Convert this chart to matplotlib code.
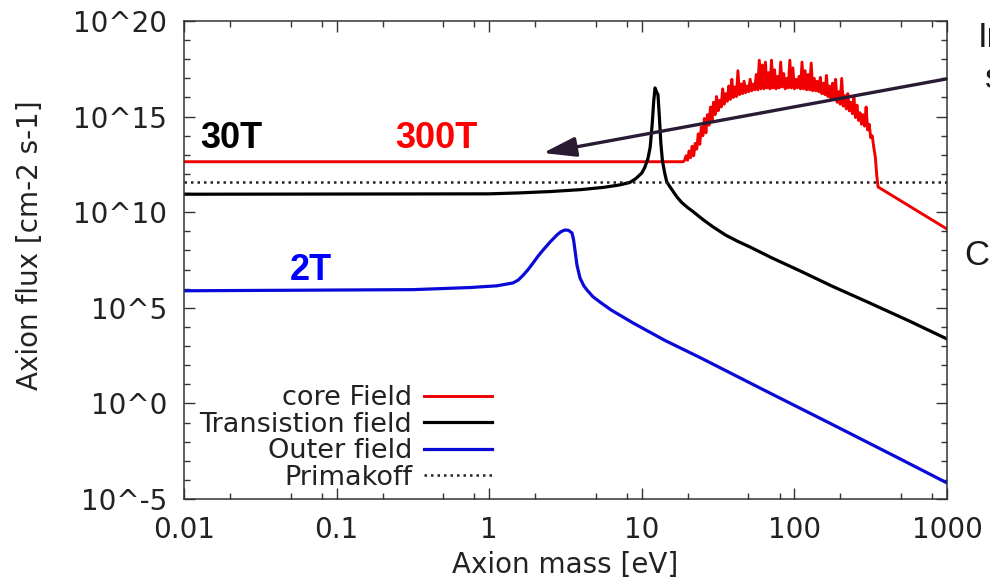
import numpy as np
import matplotlib
matplotlib.use("Agg")
import matplotlib.pyplot as plt
from matplotlib.ticker import FixedLocator, FixedFormatter, NullFormatter

plt.rcParams["font.family"] = ["DejaVu Sans"]

# ---- data (log10 of axion mass [eV] and log10 of flux [cm-2 s-1]) ----
# core field: flat, then a noisy bump between ~20 and ~350 eV, then a tail
core_points = [
    (-2.0, 12.64), (1.27, 12.64),
    (1.28, 12.70), (1.29, 12.95), (1.30, 12.72), (1.31, 13.20), (1.32, 12.85),
    (1.33, 13.45), (1.34, 12.95), (1.35, 13.60), (1.36, 13.30), (1.37, 14.10),
    (1.38, 13.55), (1.39, 14.45), (1.40, 14.00), (1.41, 14.90), (1.42, 14.15),
    (1.43, 15.10), (1.44, 14.55), (1.45, 15.50), (1.46, 14.80), (1.47, 15.75),
    (1.48, 15.10), (1.49, 16.05), (1.50, 15.30), (1.51, 15.85), (1.52, 15.50),
    (1.53, 16.45), (1.54, 15.65), (1.55, 16.20), (1.56, 15.80), (1.57, 16.60),
    (1.58, 15.90), (1.59, 16.95), (1.60, 16.00), (1.61, 16.55), (1.62, 16.05),
    (1.63, 17.40), (1.64, 16.15), (1.65, 16.70), (1.66, 16.20), (1.67, 16.85),
    (1.68, 16.25), (1.69, 16.60), (1.70, 16.30), (1.71, 16.95), (1.72, 16.35),
    (1.73, 16.70), (1.74, 16.40), (1.75, 17.20), (1.76, 16.40), (1.77, 17.95),
    (1.78, 16.45), (1.79, 17.70), (1.80, 16.45), (1.81, 17.85), (1.82, 16.50),
    (1.83, 17.30), (1.84, 16.45), (1.85, 17.95), (1.86, 16.50), (1.87, 17.45),
    (1.88, 16.45), (1.89, 17.10), (1.90, 16.50), (1.91, 17.85), (1.92, 16.55),
    (1.93, 17.25), (1.94, 16.45), (1.95, 17.00), (1.96, 16.50), (1.97, 17.95),
    (1.98, 16.50), (1.99, 17.55), (2.00, 16.45), (2.01, 16.95), (2.02, 16.50),
    (2.03, 17.10), (2.04, 16.45), (2.05, 17.85), (2.06, 16.45), (2.07, 17.40),
    (2.08, 16.40), (2.09, 17.20), (2.10, 16.40), (2.11, 17.80), (2.12, 16.35),
    (2.13, 17.00), (2.14, 16.35), (2.15, 16.85), (2.16, 16.30), (2.17, 17.05),
    (2.18, 16.20), (2.19, 16.75), (2.20, 16.15), (2.21, 17.15), (2.22, 16.05),
    (2.23, 16.60), (2.24, 15.95), (2.25, 16.75), (2.26, 15.90), (2.27, 16.95),
    (2.28, 15.75), (2.29, 16.30), (2.30, 15.65), (2.31, 17.00), (2.32, 15.55),
    (2.33, 16.10), (2.34, 15.40), (2.35, 16.20), (2.36, 15.30), (2.37, 15.75),
    (2.38, 15.15), (2.39, 16.00), (2.40, 14.95), (2.41, 15.60), (2.42, 14.80),
    (2.43, 15.20), (2.44, 14.60), (2.45, 15.10), (2.46, 14.50), (2.47, 15.50),
    (2.48, 14.30), (2.49, 14.60), (2.50, 13.90), (2.51, 14.00), (2.52, 13.40),
    (2.53, 12.90), (2.54, 11.90), (2.548, 11.32), (3.0, 9.12),
]
core_logm = [p[0] for p in core_points]
core_logf = [p[1] for p in core_points]

trans_logm = [-2.0, 0.0, 0.2, 0.4, 0.6, 0.75, 0.85, 0.92, 0.96, 1.00, 1.02, 1.04,
              1.055, 1.068, 1.078, 1.087, 1.096, 1.106, 1.115, 1.125, 1.135,
              1.15, 1.163, 1.18, 1.204, 1.23, 1.26, 1.296, 1.336, 1.40, 1.467,
              1.55, 1.63, 1.709, 1.85, 2.04, 2.25, 2.48, 2.75, 3.0]
trans_logf = [10.94, 10.96, 11.01, 11.08, 11.18, 11.30, 11.42, 11.55, 11.75, 12.05,
              12.35, 12.80, 13.40, 14.60, 15.80, 16.50, 16.30, 16.15, 15.00, 13.60,
              12.70, 12.05, 11.60, 11.38, 11.10, 10.80, 10.52, 10.27, 10.03, 9.62,
              9.23, 8.80, 8.47, 8.18, 7.62, 6.92, 6.12, 5.30, 4.32, 3.37]

outer_logm = [-2.0, -0.5, -0.126, 0.05, 0.156, 0.19, 0.222, 0.255, 0.287, 0.32,
              0.353, 0.40, 0.444, 0.47, 0.497, 0.52, 0.543, 0.553, 0.562, 0.575,
              0.595, 0.62, 0.641, 0.68, 0.726, 0.80, 0.942, 1.15, 1.381, 1.82,
              2.253, 2.692, 3.0]
outer_logf = [5.89, 5.95, 6.06, 6.15, 6.30, 6.45, 6.70, 7.00, 7.34, 7.70,
              8.02, 8.45, 8.81, 8.98, 9.07, 9.05, 8.91, 8.55, 8.02, 7.24,
              6.56, 6.15, 5.93, 5.58, 5.30, 4.88, 4.21, 3.30, 2.40, 0.62,
              -1.12, -2.90, -4.16]

primakoff_logm = [-2.0, 3.0]
primakoff_logf = [11.6, 11.6]

series_labels = ["core Field", "Transistion field", "Outer field", "Primakoff"]
x_tick_values = [0.01, 0.1, 1, 10, 100, 1000]
x_tick_labels = ["0.01", "0.1", "1", "10", "100", "1000"]
y_tick_exponents = [-5, 0, 5, 10, 15, 20]
y_tick_labels = ["10^-5", "10^0", "10^5", "10^10", "10^15", "10^20"]

W, H = 990, 583
fig = plt.figure(figsize=(W / 100, H / 100), dpi=100)
ax = fig.add_axes([184 / W, 1 - 499 / H, (947 - 184) / W, (499 - 21) / H])

lw = 2.3
ax.plot(10 ** np.array(core_logm), 10 ** np.array(core_logf), color="#f00000",
        lw=2.1, label=series_labels[0])
ax.plot(10 ** np.array(trans_logm), 10 ** np.array(trans_logf), color="black",
        lw=lw, label=series_labels[1])
ax.plot(10 ** np.array(outer_logm), 10 ** np.array(outer_logf), color="#0a0ad8",
        lw=lw, label=series_labels[2])
ax.plot(10 ** np.array(primakoff_logm), 10 ** np.array(primakoff_logf), color="#222222",
        lw=1.8, ls=(0, (1, 1.6)), label=series_labels[3])

ax.set_xscale("log")
ax.set_yscale("log")
ax.set_xlim(0.01, 1000)
ax.set_ylim(1e-5, 1e20)

# ticks: inward and mirrored on all four sides
ax.xaxis.set_major_locator(FixedLocator(x_tick_values))
ax.xaxis.set_major_formatter(FixedFormatter(x_tick_labels))
x_minor = [d * m for d in [0.01, 0.1, 1, 10, 100] for m in (2, 5, 8)]
ax.xaxis.set_minor_locator(FixedLocator(x_minor))
ax.xaxis.set_minor_formatter(NullFormatter())

ax.yaxis.set_major_locator(FixedLocator([10.0 ** e for e in y_tick_exponents]))
ax.yaxis.set_major_formatter(FixedFormatter(y_tick_labels))
y_minor = [10.0 ** e for e in range(-5, 21) if e % 5 != 0]
ax.yaxis.set_minor_locator(FixedLocator(y_minor))
ax.yaxis.set_minor_formatter(NullFormatter())

ax.tick_params(which="both", direction="in", top=True, right=True,
               color="#333333", width=1.0)
ax.tick_params(which="major", length=8, labelsize=20, labelcolor="#222222")
ax.tick_params(which="minor", length=4.5)
ax.tick_params(axis="x", which="major", pad=12)
ax.tick_params(axis="y", which="major", pad=12)
for s in ax.spines.values():
    s.set_linewidth(1.1)
    s.set_color("#333333")

ax.set_xlabel("Axion mass [eV]", fontsize=20, color="#222222")
ax.set_ylabel("Axion flux [cm-2 s-1]", fontsize=20, color="#222222")
ax.xaxis.set_label_coords(0.5, -0.108)
ax.yaxis.set_label_coords(-0.183, 0.531)

leg = ax.legend(loc="upper right", bbox_to_anchor=(492 / W, 1 - 385 / H),
                bbox_transform=fig.transFigure, frameon=False,
                markerfirst=False, fontsize=19.5, handlelength=2.5,
                handletextpad=0.45, labelspacing=0.02, borderpad=0,
                borderaxespad=0)
for t in leg.get_texts():
    t.set_color("#222222")

# field strength annotations
bold = dict(fontfamily="Liberation Sans", fontweight="bold", fontsize=26)
fig.text(231 / W, 1 - 148 / H, "30T", color="black", ha="center", va="baseline", **bold)
fig.text(436 / W, 1 - 148 / H, "300T", color="#ff0000", ha="center", va="baseline", **bold)
fig.text(311 / W, 1 - 280 / H, "2T", color="#0000ff", ha="center", va="baseline", **bold)

# arrow pointing back to the 300T label
ax.annotate("", xy=(543, H - 153), xycoords="figure pixels",
            xytext=(946, H - 79), textcoords="figure pixels",
            arrowprops=dict(arrowstyle="-|>,head_length=2.0,head_width=0.6",
                            color="#2b1a33", lw=2.4, mutation_scale=10,
                            shrinkA=0, shrinkB=0))

# side text running off the right edge
side = dict(fontfamily="Liberation Sans", fontsize=25, color="#1a1a1a", va="baseline")
fig.text(978 / W, 1 - 47 / H, "In", **side)
fig.text(985 / W, 1 - 88 / H, "s", **side)
fig.text(964 / W, 1 - 265 / H, "C", **side)

fig.savefig("out.png", dpi=100)
